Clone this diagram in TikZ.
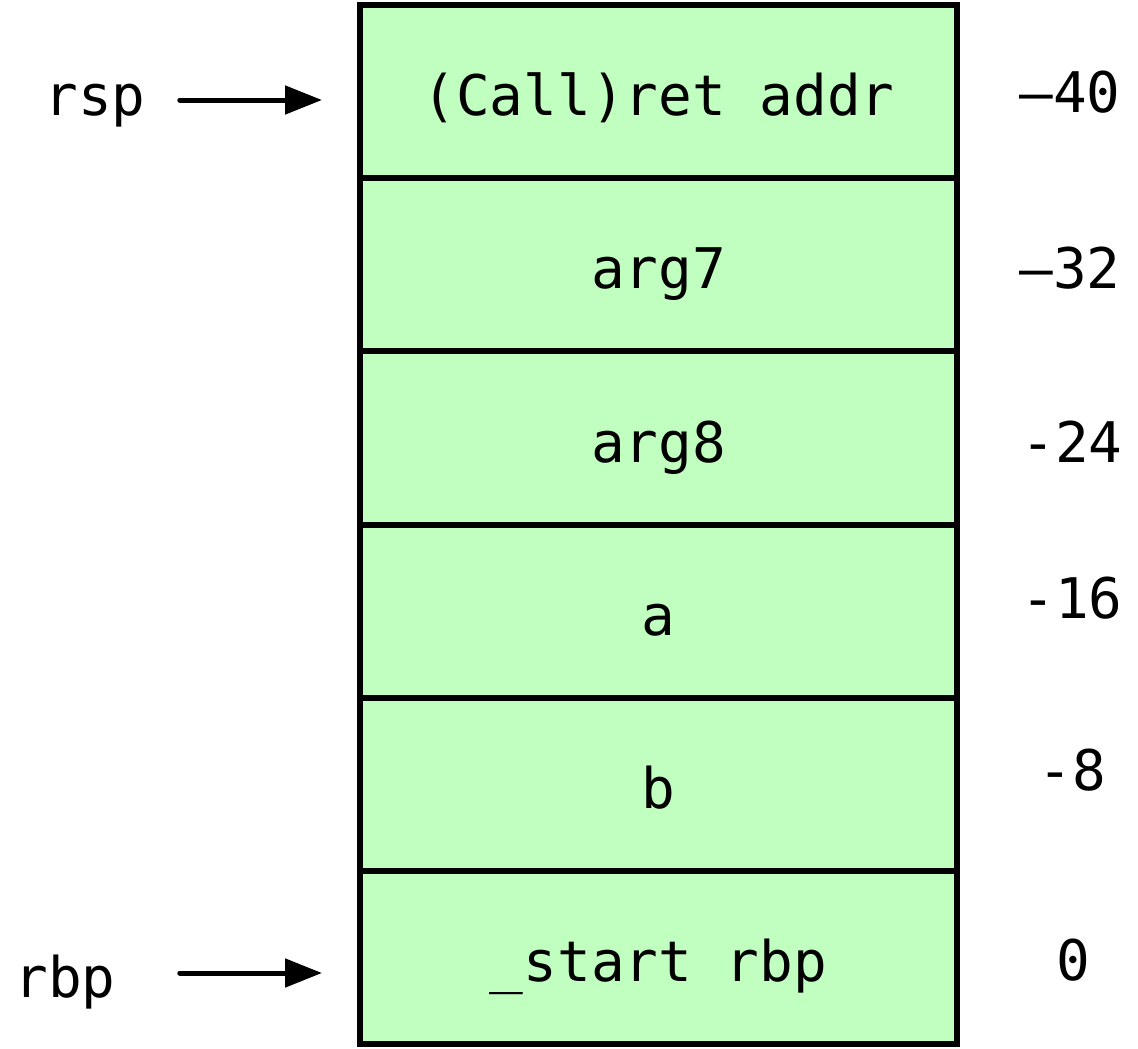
\documentclass[tikz,border=0pt]{standalone}
\usepackage{fontspec}
\setmonofont{DejaVu Sans Mono}
\usetikzlibrary{arrows.meta}
\definecolor{cellgreen}{RGB}{192,255,192}
\tikzset{
  cell/.style={draw=black, fill=cellgreen, line width=6pt, inner sep=0pt, outer sep=0pt,
    minimum width=597pt, minimum height=173.2pt, text height=48pt, text depth=0pt,
    font=\fontsize{56}{60}\selectfont\ttfamily},
  lbl/.style={inner sep=0pt, anchor=base, font=\fontsize{56}{60}\selectfont\ttfamily},
  ptr/.style={line width=5pt, line cap=round, -{Triangle[length=37pt,width=28pt]}}
}
\begin{document}
\begin{tikzpicture}[x=1pt,y=-1pt]
\useasboundingbox (0,0) rectangle (1138,1049);
\node[cell] (c1) at (658.5,91.6) {(Call)ret addr};
\node[cell] (c2) at (658.5,264.8) {arg7};
\node[cell] (c3) at (658.5,438.0) {arg8};
\node[cell] (c4) at (658.5,611.2) {a};
\node[cell] (c5) at (658.5,784.4) {b};
\node[cell] (c6) at (658.5,957.6) {\_start rbp};
\node[lbl] (rsp) at (95,115) {rsp};
\node[lbl] (rbp) at (65,997) {rbp};
\node[lbl] (o1) at (1070,112) {–40};
\node[lbl] (o2) at (1070,288) {–32};
\node[lbl] (o3) at (1072,462) {-24};
\node[lbl] (o4) at (1072,618) {-16};
\node[lbl] (o5) at (1072,790) {-8};
\node[lbl] (o6) at (1073,980) {0};
\coordinate (rsptip) at (322,100);
\coordinate (rbptip) at (322,973);
\draw[ptr] ([xshift=34pt]rsp.east |- rsptip) -- (rsptip);
\draw[ptr] ([xshift=64pt]rbp.east |- rbptip) -- (rbptip);
\end{tikzpicture}
\end{document}
